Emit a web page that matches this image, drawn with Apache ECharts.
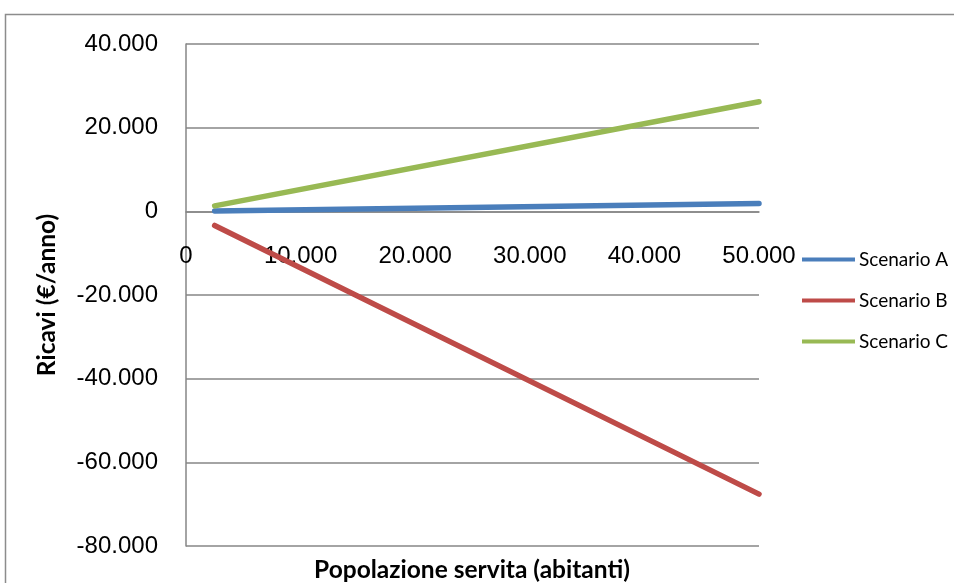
<!DOCTYPE html>
<html>
<head>
<meta charset="utf-8">
<script src="https://cdn.jsdelivr.net/npm/echarts@6/dist/echarts.min.js"></script>
<style>
  html, body { margin: 0; padding: 0; background: #fff; }
  #chart { width: 954px; height: 583px; }
</style>
</head>
<body>
<div id="chart"></div>
<script>
// Popolazione servita (abitanti) at the two ends of the range
const popolazione = [2500, 50000];
// Ricavi (€/anno) per scenario
const scenarioA = [90, 1850];
const scenarioB = [-3380, -67600];
const scenarioC = [1310, 26200];
const seriesNames = ['Scenario A', 'Scenario B', 'Scenario C'];
const seriesColors = ['#4A7EBB', '#BE4B48', '#98B954'];
const yMin = -80000, yMax = 40000;

const fmt = v => {
  const s = Math.abs(v).toString().replace(/\B(?=(\d{3})+(?!\d))/g, '.');
  return (v < 0 ? '-' : '') + s;
};

const pairs = ys => popolazione.map((x, i) => [x, ys[i]]);
const values = [scenarioA, scenarioB, scenarioC];

const chart = echarts.init(document.getElementById('chart'));
chart.setOption({
  animation: false,
  backgroundColor: '#fff',
  grid: { left: 186, right: 195, top: 44, bottom: 37, containLabel: false, outerBoundsMode: 'none' },
  legend: {
    orient: 'vertical',
    left: 797,
    top: 245,
    itemWidth: 53,
    itemHeight: 4,
    itemGap: 22,
    icon: 'rect',
    textStyle: { fontFamily: 'Lato', fontSize: 19, color: '#000', padding: [0, 0, 0, -1] },
    data: seriesNames
  },
  xAxis: {
    type: 'value',
    min: 0,
    max: 50000,
    interval: 10000,
    position: 'bottom',
    axisLine: { onZero: false, lineStyle: { color: '#868686', width: 1.5 } },
    axisTick: { show: false },
    splitLine: { show: false },
    axisLabel: {
      formatter: fmt,
      margin: 33,
      color: '#000',
      fontFamily: 'Liberation Sans',
      fontSize: 24
    }
  },
  yAxis: {
    type: 'value',
    min: yMin,
    max: yMax,
    interval: 20000,
    name: 'Ricavi (€/anno)',
    nameLocation: 'middle',
    nameGap: 126,
    nameTextStyle: { fontFamily: 'Lato', fontWeight: 'bold', fontSize: 24.5, color: '#000' },
    axisLine: { show: true, onZero: false, lineStyle: { color: '#868686', width: 1.5 } },
    axisTick: { show: false },
    splitLine: { show: true, lineStyle: { color: '#868686', width: 1.5 } },
    axisLabel: {
      formatter: fmt,
      margin: 28,
      color: '#000',
      fontFamily: 'Liberation Sans',
      fontSize: 24
    }
  },
  graphic: [
    {
      type: 'rect',
      shape: { x: 5.5, y: 14.5, width: 1000, height: 700 },
      style: { fill: 'none', stroke: '#8c8c8c', lineWidth: 1.5 },
      silent: true
    },
    {
      type: 'text',
      style: {
        text: 'Popolazione servita (abitanti)',
        x: 472,
        y: 570,
        align: 'center',
        verticalAlign: 'middle',
        fontFamily: 'Lato',
        fontWeight: 'bold',
        fontSize: 24.5,
        fill: '#000'
      }
    }
  ],
  series: seriesNames.map((name, i) => ({
    name,
    type: 'line',
    data: pairs(values[i]),
    showSymbol: false,
    symbol: 'none',
    color: seriesColors[i],
    lineStyle: { width: 5.5, color: seriesColors[i], cap: 'round' }
  }))
});

// Lift the horizontal axis so it crosses the vertical one at zero
const yZeroPx = chart.convertToPixel({ yAxisIndex: 0 }, 0);
const yBottomPx = chart.convertToPixel({ yAxisIndex: 0 }, yMin);
chart.setOption({ xAxis: { offset: -(yBottomPx - yZeroPx) } });
</script>
</body>
</html>
